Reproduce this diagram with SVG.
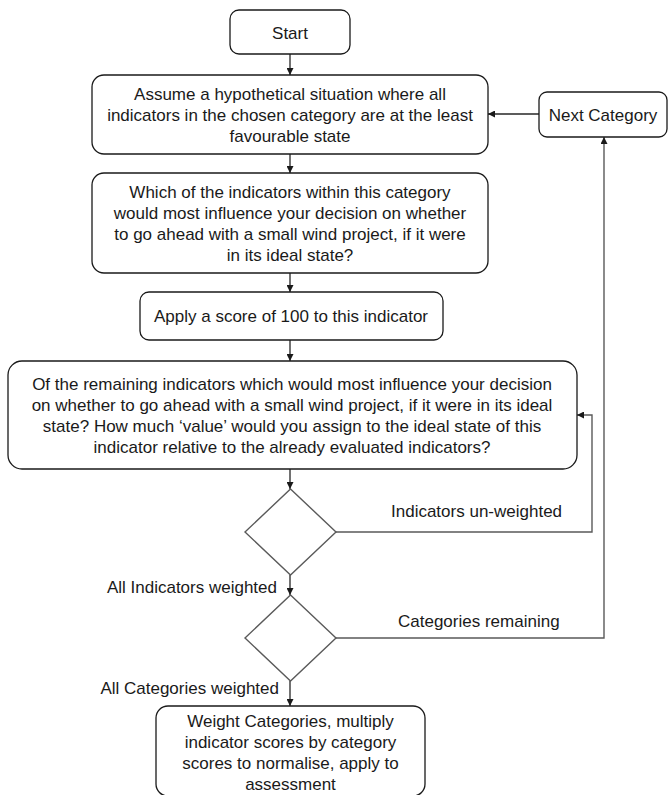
<svg xmlns="http://www.w3.org/2000/svg" width="668" height="795" viewBox="0 0 668 795">
<style>
  .box { fill: #ffffff; stroke: #1a1a1a; stroke-width: 1.3; }
  .dia { fill: #ffffff; stroke: #5a5a5a; stroke-width: 1.4; }
  .t { font-family: "Liberation Sans", Arial, sans-serif; font-size: 17px; fill: #1a1a1a; text-anchor: middle; }
  .lbl { font-family: "Liberation Sans", Arial, sans-serif; font-size: 17px; fill: #1a1a1a; }
  .c { fill: none; stroke: #262626; stroke-width: 1.3; }
  .loop { fill: none; stroke: #5a5a5a; stroke-width: 1.4; }
</style>
<defs>
  <marker id="ah" viewBox="0 0 10 10" refX="10" refY="5" markerWidth="7" markerHeight="7" markerUnits="userSpaceOnUse" orient="auto">
    <path d="M0,0 L10,5 L0,10 z" fill="#1a1a1a"/>
  </marker>
</defs>
<rect width="668" height="795" fill="#ffffff"/>

<g id="connectors">
  <path class="c" d="M290,54 V75" marker-end="url(#ah)"/>
  <path class="c" d="M290,154 V173" marker-end="url(#ah)"/>
  <path class="c" d="M290,273 V292" marker-end="url(#ah)"/>
  <path class="c" d="M290,340 V361" marker-end="url(#ah)"/>
  <path class="c" d="M290,469 V489" marker-end="url(#ah)"/>
  <path class="c" d="M290,575 V595" marker-end="url(#ah)"/>
  <path class="c" d="M290,681 V706" marker-end="url(#ah)"/>
  <path class="loop" d="M336,532 H592 V415 H577" marker-end="url(#ah)"/>
  <path class="loop" d="M336,638 H604 V137" marker-end="url(#ah)"/>
  <path class="c" d="M539,114 H488" marker-end="url(#ah)"/>
  <text class="lbl" x="391" y="517">Indicators un-weighted</text>
  <text class="lbl" x="398" y="627">Categories remaining</text>
  <text class="lbl" x="277" y="593" text-anchor="end">All Indicators weighted</text>
  <text class="lbl" x="279" y="694" text-anchor="end">All Categories weighted</text>
</g>

<g id="start">
  <rect class="box" x="230" y="10" width="120" height="44" rx="9"/>
  <text class="t" x="290" y="39">Start</text>
</g>

<g id="assume">
  <rect class="box" x="92" y="75" width="396" height="79" rx="12"/>
  <text class="t" x="290" y="99.5">Assume a hypothetical situation where all</text>
  <text class="t" x="290" y="120.5">indicators in the chosen category are at the least</text>
  <text class="t" x="290" y="141.5">favourable state</text>
</g>

<g id="next-category">
  <rect class="box" x="539" y="92" width="128" height="45" rx="8"/>
  <text class="t" x="603" y="121">Next Category</text>
</g>

<g id="which">
  <rect class="box" x="92" y="173" width="396" height="100" rx="12"/>
  <text class="t" x="290" y="198">Which of the indicators within this category</text>
  <text class="t" x="290" y="219">would most influence your decision on whether</text>
  <text class="t" x="290" y="240">to go ahead with a small wind project, if it were</text>
  <text class="t" x="290" y="261">in its ideal state?</text>
</g>

<g id="apply">
  <rect class="box" x="140" y="292" width="303" height="48" rx="9"/>
  <text class="t" x="291" y="322">Apply a score of 100 to this indicator</text>
</g>

<g id="remaining">
  <rect class="box" x="8" y="361" width="569" height="108" rx="14"/>
  <text class="t" x="292" y="390">Of the remaining indicators which would most influence your decision</text>
  <text class="t" x="292" y="411">on whether to go ahead with a small wind project, if it were in its ideal</text>
  <text class="t" x="292" y="432">state? How much ‘value’ would you assign to the ideal state of this</text>
  <text class="t" x="292" y="453">indicator relative to the already evaluated indicators?</text>
</g>

<g id="decision-indicators">
  <polygon class="dia" points="290.5,489 336,532 290.5,575 245,532"/>
</g>

<g id="decision-categories">
  <polygon class="dia" points="290.5,595 336,638 290.5,681 245,638"/>
</g>

<g id="weight-categories">
  <rect class="box" x="156" y="706" width="269" height="90" rx="12"/>
  <text class="t" x="290.5" y="727">Weight Categories, multiply</text>
  <text class="t" x="290.5" y="748">indicator scores by category</text>
  <text class="t" x="290.5" y="769">scores to normalise, apply to</text>
  <text class="t" x="290.5" y="790">assessment</text>
</g>
</svg>
